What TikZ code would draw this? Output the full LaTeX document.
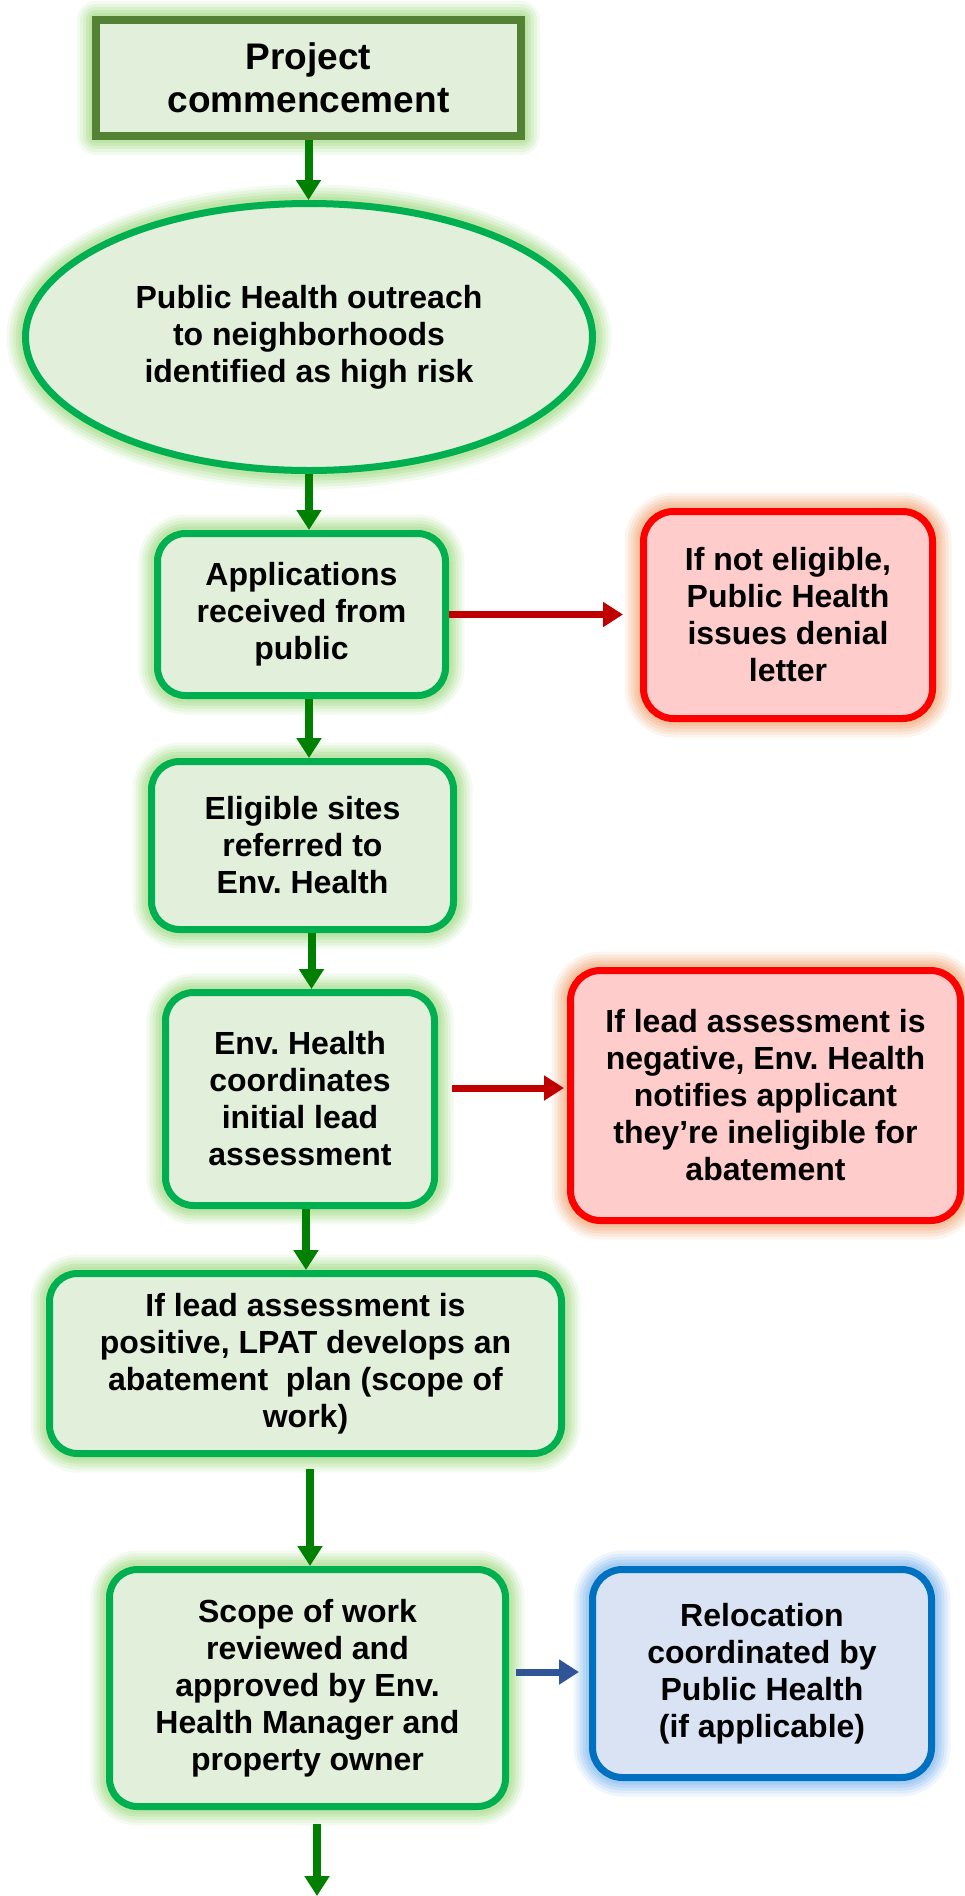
\documentclass[tikz,border=0pt]{standalone}
\usepackage{fontspec}
\setmainfont{Liberation Sans}
\frenchspacing
\usepackage{xcolor}
\usetikzlibrary{arrows.meta,shapes.geometric}

\definecolor{boxfill}{RGB}{226,239,218}
\definecolor{boxline}{RGB}{0,176,80}
\definecolor{darkline}{RGB}{84,130,53}
\definecolor{greenglow}{RGB}{160,220,130}
\definecolor{arrowgreen}{RGB}{0,128,0}
\definecolor{redfill}{RGB}{255,204,204}
\definecolor{redline}{RGB}{255,0,0}
\definecolor{redglow}{RGB}{244,170,120}
\definecolor{redarrow}{RGB}{192,0,0}
\definecolor{bluefill}{RGB}{218,227,243}
\definecolor{blueline}{RGB}{0,112,192}
\definecolor{blueglow}{RGB}{130,185,240}
\definecolor{bluearrow}{RGB}{47,85,151}

\begin{document}
\begin{tikzpicture}[x=1pt,y=-1pt,
    glow/.style={preaction={draw=#1,line width=38pt,line join=round,opacity=0.12},
                 preaction={draw=#1,line width=32pt,line join=round,opacity=0.15},
                 preaction={draw=#1,line width=26pt,line join=round,opacity=0.2},
                 preaction={draw=#1,line width=20pt,line join=round,opacity=0.25},
                 preaction={draw=#1,line width=14pt,line join=round,opacity=0.3}},
    txt/.style={align=center,inner sep=0pt,font=\bfseries\fontsize{32}{37}\selectfont},
    gbox/.style={txt,draw=boxline,line width=7pt,fill=boxfill,rounded corners=28pt,glow=greenglow},
    pbox/.style={txt,draw=darkline,line width=8pt,fill=boxfill,glow=greenglow,
                 font=\bfseries\fontsize{37}{43}\selectfont},
    ebox/.style={txt,ellipse,draw=boxline,line width=7pt,fill=boxfill,glow=greenglow},
    rbox/.style={txt,draw=redline,line width=7pt,fill=redfill,rounded corners=30pt,glow=redglow},
    bbox/.style={txt,draw=blueline,line width=7pt,fill=bluefill,rounded corners=30pt,glow=blueglow},
    garrow/.style={draw=arrowgreen,line width=8pt,-{Triangle[length=20pt,width=24pt]}},
    rarrow/.style={draw=redarrow,line width=7pt,-{Triangle[length=20pt,width=24pt]}},
    barrow/.style={draw=bluearrow,line width=7pt,-{Triangle[length=20pt,width=24pt]}}]
    \path[use as bounding box,fill=white](0,0)rectangle(965,1896);

    \node[pbox,minimum width=425pt,minimum height=116pt] (start) at (308.5,78) {Project\\commencement};
    \node[ebox,minimum width=567pt,minimum height=267pt] (outreach) at (309,337) {Public Health outreach\\to neighborhoods\\identified as high risk};
    \node[gbox,minimum width=288pt,minimum height=162pt] (apps) at (301.5,614.5) {Applications\\received from\\public};
    \node[rbox,minimum width=289pt,minimum height=207pt] (denial) at (788,615) {If not eligible,\\Public Health\\issues denial\\letter};
    \node[gbox,minimum width=302pt,minimum height=168pt] (sites) at (302.5,845.5) {Eligible sites\\referred to\\Env. Health};
    \node[gbox,minimum width=269pt,minimum height=213pt] (assess) at (300,1099) {Env. Health\\coordinates\\initial lead\\assessment};
    \node[rbox,minimum width=390pt,minimum height=250pt] (negative) at (765.5,1095.5) {If lead assessment is\\negative, Env. Health\\notifies applicant\\they’re ineligible for\\abatement};
    \node[gbox,minimum width=512pt,minimum height=180pt] (plan) at (305.5,1363.5) {If lead assessment is\\positive, LPAT develops an\\abatement~~plan (scope of\\work)};
    \node[gbox,minimum width=396pt,minimum height=237pt] (review) at (307.5,1688) {Scope of work\\reviewed and\\approved by Env.\\Health Manager and\\property owner};
    \node[bbox,minimum width=339pt,minimum height=208pt] (reloc) at (762,1673.5) {Relocation\\coordinated by\\Public Health\\(if applicable)};
    \coordinate (flowend) at (317,1896);

    \draw[garrow](start.south)--(start.south |- outreach.north);
    \draw[garrow](outreach.south)--(outreach.south |- apps.north);
    \draw[garrow]([xshift=7.5pt]apps.south)--([xshift=7.5pt]apps.south |- sites.north);
    \draw[garrow]([xshift=9pt]sites.south)--([xshift=9pt]sites.south |- assess.north);
    \draw[garrow]([xshift=6pt]assess.south)--([xshift=6pt]assess.south |- plan.north);
    \draw[garrow]([shift={(4.5pt,-12pt)}]plan.south)--([xshift=4.5pt]plan.south |- review.north);
    \draw[garrow]([shift={(9.5pt,-14pt)}]review.south)--(flowend);
    \draw[rarrow](apps.east)--([xshift=-17pt]apps.east -| denial.west);
    \draw[rarrow]([shift={(14pt,11pt)}]assess.east)--([shift={(-3pt,11pt)}]assess.east -| negative.west);
    \draw[barrow]([shift={(7pt,16pt)}]review.east)--([shift={(-10pt,16pt)}]review.east -| reloc.west);
\end{tikzpicture}
\end{document}
